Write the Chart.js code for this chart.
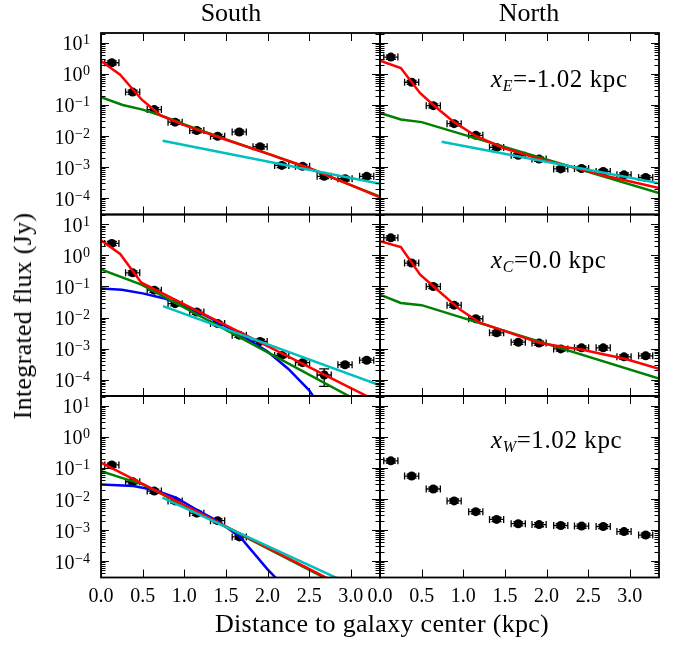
<!DOCTYPE html>
<html>
<head>
<meta charset="utf-8">
<title>Integrated flux profiles</title>
<script src="https://cdn.jsdelivr.net/npm/chart.js@4.4.0/dist/chart.umd.min.js"></script>
<style>
  body { margin: 0; background: #fff; }
  #wrap { position: relative; width: 683px; height: 646px; overflow: hidden;
          font-family: 'Liberation Serif', 'DejaVu Serif', serif; color: #000; }
  #wrap canvas { position: absolute; left: 0; top: 0; }
  .lbl { position: absolute; white-space: nowrap; line-height: 1; }
  .title { font-size: 26px; top: 0px; transform: translateX(-50%); }
  .xtitle { font-size: 26px; left: 382px; top: 611px; transform: translateX(-50%); letter-spacing: 0.3px; }
  .ytitle { font-size: 26px; left: 23px; top: 316px; transform: translate(-50%, -50%) rotate(-90deg); letter-spacing: 0.3px; }
  .ann { font-size: 25px; left: 491px; letter-spacing: 0.6px; }
  .ann sub { font-size: 16px; font-style: italic; vertical-align: -4px; line-height: 0; }
</style>
</head>
<body>
<div id="wrap">
  <canvas id="cSE" width="683" height="646"></canvas>
  <canvas id="cNE" width="683" height="646"></canvas>
  <canvas id="cSC" width="683" height="646"></canvas>
  <canvas id="cNC" width="683" height="646"></canvas>
  <canvas id="cSW" width="683" height="646"></canvas>
  <canvas id="cNW" width="683" height="646"></canvas>
  <div class="lbl title" style="left:231px">South</div>
  <div class="lbl title" style="left:529px">North</div>
  <div class="lbl ann" style="top:66px"><i>x</i><sub>E</sub>=-1.02 kpc</div>
  <div class="lbl ann" style="top:247px"><i>x</i><sub>C</sub>=0.0 kpc</div>
  <div class="lbl ann" style="top:427px"><i>x</i><sub>W</sub>=1.02 kpc</div>
  <div class="lbl xtitle">Distance to galaxy center (kpc)</div>
  <div class="lbl ytitle">Integrated flux (Jy)</div>
</div>
<script>
// radial bins (kpc) and half width of each bin
const distance = [0.13, 0.38, 0.64, 0.89, 1.15, 1.40, 1.66, 1.91, 2.17, 2.42, 2.68, 2.93, 3.19];
const binHalf = 0.085;

// measured flux (Jy) and relative errors
const fluxSE = [2.3, 0.26, 0.071, 0.028, 0.015, 0.0098, 0.0135, 0.0045, 0.00113, 0.00105, 0.0005, 0.00042, 0.0005];
const errSE  = [0.15, 0.15, 0.15, 0.15, 0.15, 0.15, 0.15, 0.15, 0.15, 0.15, 0.15, 0.15, 0.15];
const fluxNE = [3.5, 0.54, 0.095, 0.025, 0.0105, 0.0043, 0.0024, 0.0018, 0.00087, 0.0009, 0.00072, 0.00056, 0.00046];
const errNE  = [0.15, 0.15, 0.15, 0.15, 0.15, 0.15, 0.15, 0.15, 0.15, 0.15, 0.15, 0.15, 0.15];
const fluxSC = [2.45, 0.275, 0.076, 0.028, 0.015, 0.0064, 0.0027, 0.0017, 0.0006, 0.00035, 0.00014, 0.0003, 0.00042];
const errSC  = [0.15, 0.15, 0.15, 0.15, 0.15, 0.15, 0.15, 0.15, 0.15, 0.15, 0.57, 0.15, 0.15];
const fluxNC = [3.7, 0.57, 0.10, 0.025, 0.0091, 0.0032, 0.0016, 0.0015, 0.00097, 0.00105, 0.00105, 0.00054, 0.00058];
const errNC  = [0.15, 0.15, 0.15, 0.15, 0.15, 0.15, 0.15, 0.15, 0.15, 0.15, 0.15, 0.15, 0.15];
const fluxSW = [0.125, 0.036, 0.018, 0.0087, 0.0035, 0.002, 0.0006];
const errSW  = [0.15, 0.15, 0.15, 0.15, 0.15, 0.15, 0.15];
const fluxNW = [0.17, 0.055, 0.021, 0.0087, 0.0039, 0.0022, 0.0016, 0.0015, 0.0014, 0.00134, 0.0013, 0.00089, 0.00069];
const errNW  = [0.15, 0.15, 0.15, 0.15, 0.15, 0.15, 0.15, 0.15, 0.15, 0.15, 0.15, 0.15, 0.15];

// model curves, [distance, flux]
const redSE   = [[0, 2.6], [0.23, 0.95], [0.49, 0.148], [0.72, 0.045], [1.0, 0.0224], [1.5, 0.0076], [2.0, 0.0027], [2.5, 0.00093], [3.0, 0.00026], [3.35, 0.000105]];
const greenSE = [[0, 0.18], [0.26, 0.10], [0.5, 0.071], [0.72, 0.046], [1.0, 0.0235], [1.5, 0.0078], [2.0, 0.0027], [2.5, 0.0009], [3.0, 0.00026], [3.35, 0.000112]];
const cyanSE  = [[0.74, 0.007], [3.35, 0.00029]];

const redNE   = [[0, 2.7], [0.25, 1.55], [0.48, 0.245], [0.64, 0.1], [0.89, 0.028], [1.15, 0.01], [1.48, 0.0041], [1.92, 0.0018], [2.28, 0.00105], [2.68, 0.00054], [3.35, 0.00021]];
const greenNE = [[0, 0.055], [0.25, 0.034], [0.5, 0.028], [3.35, 0.000145]];
const cyanNE  = [[0.74, 0.0065], [3.35, 0.0003]];

const redSC   = [[0, 3.1], [0.23, 1.12], [0.485, 0.132], [1.0, 0.0266], [2.0, 0.00119], [3.0, 0.000053], [3.35, 0.000018]];
const greenSC = [[0, 0.355], [0.485, 0.115], [1.5, 0.004], [2.97, 0.00003], [3.35, 0.0000085]];
const blueSC  = [[0, 0.086], [0.25, 0.079], [0.5, 0.06], [0.75, 0.042], [1.0, 0.024], [1.25, 0.0117], [1.5, 0.0052], [1.75, 0.0021], [2.0, 0.0008], [2.25, 0.00022], [2.5, 0.000045], [2.6, 0.000018]];
const cyanSC  = [[0.745, 0.0234], [3.35, 0.000065]];

const redNC   = [[0, 2.9], [0.25, 1.86], [0.48, 0.245], [0.64, 0.102], [0.96, 0.018], [1.2, 0.0068], [1.92, 0.0015], [2.17, 0.00117], [2.42, 0.00093], [2.68, 0.00065], [2.94, 0.00047], [3.35, 0.000224]];
const greenNC = [[0, 0.055], [0.25, 0.0295], [0.5, 0.025], [3.35, 0.000107]];

const redSW   = [[0, 0.148], [3.35, 0.0000038]];
const greenSW = [[0, 0.079], [0.25, 0.048], [0.5, 0.0295], [0.75, 0.0135], [2.7, 0.0000275], [3.35, 0.0000035]];
const blueSW  = [[0, 0.0295], [0.39, 0.0263], [0.64, 0.0195], [0.9, 0.011], [1.15, 0.0045], [1.4, 0.00195], [1.67, 0.0006], [2.0, 0.000054], [2.2, 0.000015]];
const cyanSW  = [[0.737, 0.011], [3.35, 0.0000065]];

// axes
const xTicks = [0, 0.5, 1.0, 1.5, 2.0, 2.5, 3.0];
const xTickLabels = ['0.0', '0.5', '1.0', '1.5', '2.0', '2.5', '3.0'];
const yTickExps = [1, 0, -1, -2, -3, -4];
const yTickLabels = ['1', '0', '\u22121', '\u22122', '\u22123', '\u22124'];
const xRange = [0, 3.35];
const yRange = [2.95e-5, 20.9];

// panel grid in page pixels
const colLeft = [101, 380];
const colWidth = 279;
const rowTop = [33, 214.5, 396];
const rowHeight = 181.5;

const colors = { red: '#ff0000', green: '#008000', blue: '#0000ff', cyan: '#00bfbf' };
const serif = '"Liberation Serif", "DejaVu Serif", serif';

const framePlugin = {
    id: 'frame',
    beforeDatasetDraw(chart, args) {
        const ds = chart.data.datasets[args.index];
        if (!ds.errorBars) return;
        const { ctx, chartArea: a } = chart;
        const xs = chart.scales.x, ys = chart.scales.y;
        ctx.save();
        ctx.beginPath();
        ctx.rect(a.left, a.top, a.right - a.left, a.bottom - a.top);
        ctx.clip();
        ctx.strokeStyle = '#000';
        ctx.lineWidth = 1.3;
        ds.data.forEach(p => {
            const px = xs.getPixelForValue(p.x), py = ys.getPixelForValue(p.y);
            const x0 = xs.getPixelForValue(p.x - p.xe), x1 = xs.getPixelForValue(p.x + p.xe);
            const yl = p.y - p.ye > 0 ? ys.getPixelForValue(p.y - p.ye) : a.bottom + 10;
            const yh = ys.getPixelForValue(p.y + p.ye);
            ctx.beginPath();
            ctx.moveTo(x0, py); ctx.lineTo(x1, py);
            ctx.moveTo(x0, py - 3.5); ctx.lineTo(x0, py + 3.5);
            ctx.moveTo(x1, py - 3.5); ctx.lineTo(x1, py + 3.5);
            ctx.moveTo(px, yl); ctx.lineTo(px, yh);
            ctx.moveTo(px - 5, yl); ctx.lineTo(px + 5, yl);
            ctx.moveTo(px - 5, yh); ctx.lineTo(px + 5, yh);
            ctx.stroke();
        });
        ctx.restore();
    },
    afterDraw(chart, args, opts) {
        const { ctx, chartArea: a } = chart;
        const xs = chart.scales.x, ys = chart.scales.y;
        ctx.save();
        ctx.strokeStyle = '#000';

        // ticks, all pointing inwards
        ctx.lineWidth = 1;
        ctx.beginPath();
        xTicks.forEach(v => {
            const px = Math.round(xs.getPixelForValue(v)) + 0.5;
            ctx.moveTo(px, a.bottom); ctx.lineTo(px, a.bottom - 8);
            ctx.moveTo(px, a.top); ctx.lineTo(px, a.top + 8);
        });
        for (let e = -5; e <= 1; e++) {
            for (let m = 1; m <= 9; m++) {
                const v = m * Math.pow(10, e);
                if (v < yRange[0] || v > yRange[1]) continue;
                const py = Math.round(ys.getPixelForValue(v)) + 0.5;
                const len = m === 1 ? 8 : 4.5;
                ctx.moveTo(a.left, py); ctx.lineTo(a.left + len, py);
                ctx.moveTo(a.right, py); ctx.lineTo(a.right - len, py);
            }
        }
        ctx.stroke();

        // frame
        ctx.lineWidth = 1.8;
        ctx.strokeRect(a.left, a.top, a.right - a.left, a.bottom - a.top);

        ctx.fillStyle = '#000';
        if (opts.xLabels) {
            ctx.font = '20px ' + serif;
            ctx.textAlign = 'center';
            ctx.textBaseline = 'alphabetic';
            xTicks.forEach((v, i) => {
                ctx.fillText(xTickLabels[i], xs.getPixelForValue(v), a.bottom + 24);
            });
        }
        if (opts.yLabels) {
            ctx.textBaseline = 'alphabetic';
            ctx.textAlign = 'left';
            yTickExps.forEach((e, i) => {
                const py = ys.getPixelForValue(Math.pow(10, e));
                const right = a.left - 11;
                ctx.font = '14px ' + serif;
                const we = ctx.measureText(yTickLabels[i]).width;
                ctx.fillText(yTickLabels[i], right - we, py + 1.5);
                ctx.font = '20px ' + serif;
                const wb = ctx.measureText('10').width;
                ctx.fillText('10', right - we - wb - 0.5, py + 7.5);
            });
        }
        ctx.restore();
    }
};

function lineSet(points, color) {
    return {
        data: points.map(p => ({ x: p[0], y: p[1] })),
        showLine: true,
        borderColor: color,
        backgroundColor: color,
        borderWidth: 2.5,
        pointRadius: 0,
        fill: false,
        tension: 0,
        clip: 0
    };
}

function buildPanel(canvasId, col, row, flux, relErr, models) {
    const left = colLeft[col], top = rowTop[row];
    const datasets = [];
    // first dataset is drawn on top
    if (models.cyan) datasets.push(lineSet(models.cyan, colors.cyan));
    if (models.red) datasets.push(lineSet(models.red, colors.red));
    if (models.green) datasets.push(lineSet(models.green, colors.green));
    if (models.blue) datasets.push(lineSet(models.blue, colors.blue));
    datasets.push({
        data: flux.map((f, i) => ({ x: distance[i], y: f, xe: binHalf, ye: f * relErr[i] })),
        errorBars: true,
        showLine: false,
        pointRadius: 4.5,
        pointBackgroundColor: '#000',
        pointBorderWidth: 0,
        clip: 0
    });

    new Chart(document.getElementById(canvasId), {
        type: 'scatter',
        data: { datasets: datasets },
        options: {
            responsive: false,
            animation: false,
            events: [],
            layout: {
                autoPadding: false,
                padding: { left: left, top: top, right: 683 - left - colWidth, bottom: 646 - top - rowHeight }
            },
            scales: {
                x: { type: 'linear', display: false, bounds: 'data', min: xRange[0], max: xRange[1] },
                y: { type: 'logarithmic', display: false, bounds: 'data', min: yRange[0], max: yRange[1] }
            },
            plugins: {
                legend: { display: false },
                tooltip: { enabled: false },
                frame: { xLabels: row === 2, yLabels: col === 0 }
            }
        },
        plugins: [framePlugin]
    });
}

buildPanel('cSE', 0, 0, fluxSE, errSE, { red: redSE, green: greenSE, cyan: cyanSE });
buildPanel('cNE', 1, 0, fluxNE, errNE, { red: redNE, green: greenNE, cyan: cyanNE });
buildPanel('cSC', 0, 1, fluxSC, errSC, { red: redSC, green: greenSC, blue: blueSC, cyan: cyanSC });
buildPanel('cNC', 1, 1, fluxNC, errNC, { red: redNC, green: greenNC });
buildPanel('cSW', 0, 2, fluxSW, errSW, { red: redSW, green: greenSW, blue: blueSW, cyan: cyanSW });
buildPanel('cNW', 1, 2, fluxNW, errNW, {});
</script>
</body>
</html>
